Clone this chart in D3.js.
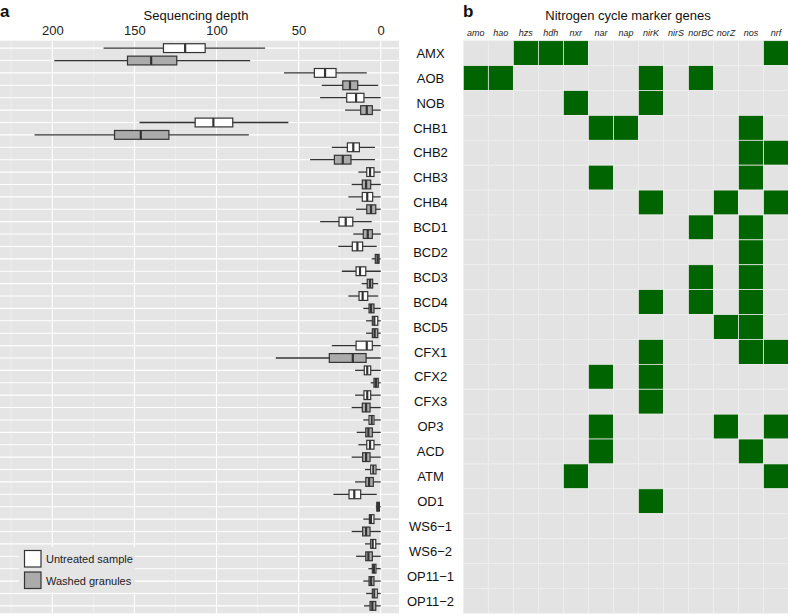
<!DOCTYPE html>
<html><head><meta charset="utf-8">
<script src="https://cdn.jsdelivr.net/npm/d3@7"></script>
<style>body{margin:0;background:#fff}svg{display:block}text{font-family:"Liberation Sans",Arial,sans-serif}</style>
</head><body><svg id="c" width="788" height="616"></svg>
<script>
const categories = ["AMX","AOB","NOB","CHB1","CHB2","CHB3","CHB4","BCD1","BCD2","BCD3","BCD4","BCD5","CFX1","CFX2","CFX3","OP3","ACD","ATM","OD1","WS6\u22121","WS6\u22122","OP11\u22121","OP11\u22122"];
const groups = ["Untreated sample","Washed granules"];
// [lower whisker, q1, median, q3, upper whisker]
const untreated = [
 [70.4,106.9,119.1,132.3,168.8],[8.5,27.2,33.9,40.4,58.9],[0,10.2,15.0,20.7,36.9],
 [56.2,90.1,101.9,113.0,146.9],[3.5,13.0,16.7,20.3,29.8],[0,4.1,6.5,8.5,13.6],
 [0,4.9,8.2,11.2,19.7],[5.5,17.0,21.3,25.4,36.9],[2.4,11.0,14.2,17.3,25.8],
 [0,9.1,12.6,15.0,23.7],[1.5,7.9,11.0,13.2,19.7],[0,1.8,3.9,5.1,8.9],
 [0,5.1,8.5,15.0,29.8],[0,6.1,8.2,10.0,15.6],[0,6.1,8.2,10.2,15.6],
 [0,4.1,5.5,7.1,10.6],[0,4.1,6.5,8.5,13.6],[0,2.9,4.5,6.1,9.6],
 [2.4,12.2,16.1,19.3,28.8],[0,4.1,5.9,6.9,10.6],[0,3.0,4.9,6.1,9.6],
 [0,2.9,4.1,5.1,7.5],[0,2.1,3.9,5.1,8.9]];
const washed = [
 [79.5,124.2,139.8,154.2,198.8],[1.5,14.0,18.7,23.1,35.9],[0,5.1,8.5,12.2,21.7],
 [80.3,129.0,146.1,162.1,210.8],[3.5,18.1,23.1,28.2,43.0],[0,6.1,8.9,11.2,17.7],
 [0,3.0,5.9,8.5,15.0],[0,5.1,7.9,10.6,16.7],[0,1.0,1.9,3.3,5.5],
 [1.5,4.9,6.5,8.2,11.6],[0,4.1,5.9,7.1,10.6],[0,1.8,3.7,5.1,8.9],
 [0,8.9,17.0,31.3,63.9],[0,1.5,2.9,4.1,6.1],[0,6.5,8.9,11.2,17.7],
 [0,5.1,7.5,9.1,14.6],[0,6.5,8.9,11.0,17.7],[0,4.5,7.1,9.1,15.6],
 [0,0.8,1.6,2.4,3.0],[0,6.5,8.9,11.0,17.7],[0,5.1,7.5,9.1,15.0],
 [0,4.1,5.9,7.1,10.6],[0,3.0,5.1,6.5,10.2]];
const depthTicks = [0,50,100,150,200];
const depthMinor = [25,75,125,175,225];
const genes = ["amo","hao","hzs","hdh","nxr","nar","nap","nirK","nirS","norBC","norZ","nos","nrf"];
const presence = [
 ["hzs","hdh","nxr","nrf"],["amo","hao","nirK","norBC"],["nxr","nirK"],
 ["nar","nap","nos"],["nos","nrf"],["nar","nos"],["nirK","norZ","nrf"],
 ["norBC","nos"],["nos"],["norBC","nos"],["nirK","norBC","nos"],["norZ","nos"],
 ["nirK","nos","nrf"],["nar","nirK"],["nirK"],["nar","norZ","nrf"],["nar","nos"],
 ["nxr","nrf"],["nirK"],[],[],[],[]];

const svg = d3.select("#c");
const yTop = 40.7, yBot = 613.3;

// ---------- panel a ----------
const pa = {x0:0, x1:399};
const x = d3.scaleLinear().domain([231.85,-11.14]).range([pa.x0,pa.x1]);
const keys = [];
categories.forEach(c=>groups.forEach(g=>keys.push(c+"|"+g)));
const y = d3.scalePoint().domain(keys).range([yTop,yBot]).padding(0.6);
const ga = svg.append("g");
ga.append("rect").attr("x",pa.x0).attr("y",yTop).attr("width",pa.x1-pa.x0).attr("height",yBot-yTop).attr("fill","#e5e5e5");
ga.selectAll(".vmin").data(depthMinor).join("line").attr("x1",d=>x(d)).attr("x2",d=>x(d)).attr("y1",yTop).attr("y2",yBot).attr("stroke","#f2f2f2").attr("stroke-width",0.6);
ga.selectAll(".hmaj").data(keys).join("line").attr("x1",pa.x0).attr("x2",pa.x1).attr("y1",d=>y(d)).attr("y2",d=>y(d)).attr("stroke","#fff").attr("stroke-width",1.1);
ga.selectAll(".vmaj").data(depthTicks).join("line").attr("x1",d=>x(d)).attr("x2",d=>x(d)).attr("y1",yTop).attr("y2",yBot).attr("stroke","#fff").attr("stroke-width",1.1);

// axis
const ax = d3.axisTop(x).tickValues(depthTicks).tickSize(0).tickPadding(0);
const axg = svg.append("g").attr("transform",`translate(0,35)`).call(ax);
axg.select(".domain").remove();
axg.selectAll("text").attr("font-size",13).attr("fill","#222").attr("font-family","Liberation Sans, Arial, sans-serif").attr("dy",0);
svg.append("text").attr("x",196).attr("y",19.5).attr("text-anchor","middle").attr("font-size",13).attr("fill","#111").text("Sequencing depth");
svg.append("text").attr("x",0).attr("y",16.5).attr("font-size",17).attr("font-weight","bold").attr("fill","#111").text("a");

// boxes
const boxes = [];
categories.forEach((c,i)=>{
  boxes.push({key:c+"|"+groups[0], s:untreated[i], fill:"#ffffff"});
  boxes.push({key:c+"|"+groups[1], s:washed[i], fill:"#ababab"});
});
const bh = 4.4;
const bg = ga.selectAll(".box").data(boxes).join("g");
bg.append("line").attr("x1",d=>x(d.s[0])).attr("x2",d=>x(d.s[4])).attr("y1",d=>y(d.key)).attr("y2",d=>y(d.key)).attr("stroke","#333").attr("stroke-width",1.3);
bg.append("rect").attr("x",d=>x(d.s[3])).attr("width",d=>x(d.s[1])-x(d.s[3])).attr("y",d=>y(d.key)-bh).attr("height",2*bh).attr("fill",d=>d.fill).attr("stroke","#333").attr("stroke-width",1.2);
bg.append("line").attr("x1",d=>x(d.s[2])).attr("x2",d=>x(d.s[2])).attr("y1",d=>y(d.key)-bh).attr("y2",d=>y(d.key)+bh).attr("stroke","#333").attr("stroke-width",2.2);

// legend
const lg = svg.append("g");
lg.append("rect").attr("x",19).attr("y",547).attr("width",116).attr("height",45).attr("fill","#e5e5e5");
const lgY = [550.5,572];
groups.forEach((g,i)=>{
  lg.append("rect").attr("x",24.5).attr("y",lgY[i]).attr("width",16.5).attr("height",16.5).attr("fill",i?"#ababab":"#fff").attr("stroke","#333").attr("stroke-width",1.2);
  lg.append("text").attr("x",46).attr("y",lgY[i]+12.5).attr("font-size",11).attr("fill","#222").text(g);
});

// ---------- row labels ----------
const yr = d3.scaleBand().domain(categories).range([yTop,yBot]);
svg.selectAll(".rl").data(categories).join("text").attr("x",430.5).attr("y",d=>yr(d)+yr.bandwidth()/2).attr("dy","0.36em").attr("text-anchor","middle").attr("font-size",13).attr("fill","#111").text(d=>d);

// ---------- panel b ----------
const xb = d3.scaleBand().domain(genes).range([463.3,788.5]);
const cells = [];
categories.forEach((c,i)=>genes.forEach(g=>cells.push({c,g,on:presence[i].includes(g)})));
svg.selectAll(".cell").data(cells).join("rect").attr("x",d=>xb(d.g)).attr("y",d=>yr(d.c)).attr("width",xb.bandwidth()).attr("height",yr.bandwidth()).attr("fill",d=>d.on?"#006400":"#e3e3e3").attr("stroke","#f0f0f0").attr("stroke-width",0.7);
svg.selectAll(".gh").data(genes).join("text").attr("x",d=>xb(d)+xb.bandwidth()/2).attr("y",35.5).attr("text-anchor","middle").attr("font-size",9).attr("font-style","italic").attr("fill","#222").text(d=>d);
svg.append("text").attr("x",628).attr("y",19.5).attr("text-anchor","middle").attr("font-size",13).attr("fill","#111").text("Nitrogen cycle marker genes");
svg.append("text").attr("x",463).attr("y",17).attr("font-size",17).attr("font-weight","bold").attr("fill","#111").text("b");
</script></body></html>
